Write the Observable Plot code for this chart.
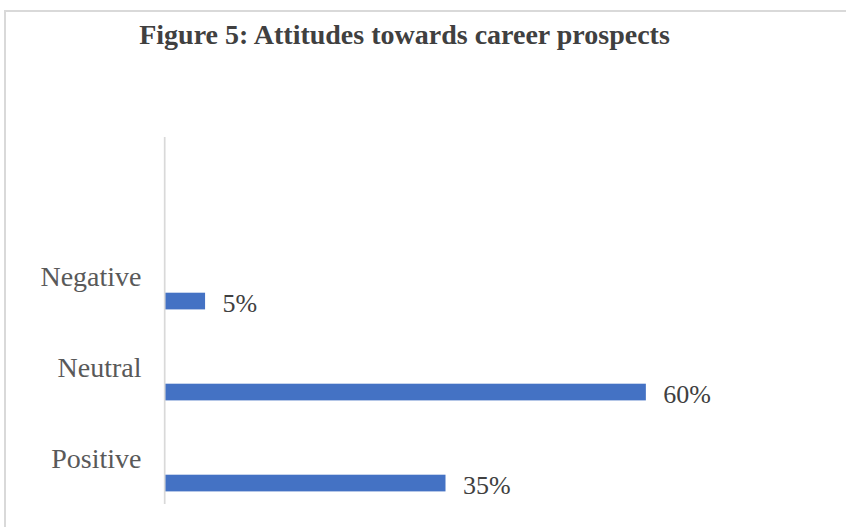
<!DOCTYPE html>
<html>
<head>
<meta charset="utf-8">
<script src="https://cdn.jsdelivr.net/npm/d3@7"></script>
<script src="https://cdn.jsdelivr.net/npm/@observablehq/plot@0.6"></script>
<style>
  html, body { margin: 0; padding: 0; background: #fff; overflow: hidden; width: 846px; height: 527px; }
  #frame { position: absolute; left: 4px; top: 10px; width: 900px; height: 600px; border-top: 2px solid #d9d9d9; border-left: 2px solid #d9d9d9; }
  #title { position: absolute; left: 0; width: 809px; top: 21px; text-align: center; font-family: "Liberation Serif", "Times New Roman", serif; font-weight: bold; font-size: 28px; line-height: 28px; color: #404040; white-space: nowrap; }
  #chart { position: absolute; left: 0; top: 100px; }
</style>
</head>
<body>
<div id="frame"></div>
<div id="title">Figure 5: Attitudes towards career prospects</div>
<div id="chart"></div>
<script>
const categories = ["Negative", "Neutral", "Positive"];
const values = [5, 60, 35];
const bands = ["", "Negative", "Neutral", "Positive"];
const xDomain = [0, 70];

const data = categories.map((c, i) => ({category: c, value: values[i]}));

const chart = Plot.plot({
  width: 846,
  height: 427,
  marginTop: 37,
  marginBottom: 23,
  marginLeft: 165,
  marginRight: 120,
  style: {fontFamily: "Liberation Serif, 'Times New Roman', serif", fontSize: "28px", color: "#595959", background: "transparent"},
  x: {domain: xDomain, axis: null},
  y: {type: "band", domain: bands, padding: 0, axis: null},
  marks: [
    Plot.axisY({tickSize: 0, tickPadding: 24, dy: 1.5, fontSize: 28, fill: "#595959", label: null}),
    Plot.barX(data, {x: "value", y: "category", fill: "#4472C4", insetTop: 62.7, insetBottom: 11.6}),
    Plot.ruleX([0], {stroke: "#d9d9d9", strokeWidth: 1.7, dx: -0.8}),
    Plot.text(data, {x: "value", y: "category", text: d => d.value + "%", textAnchor: "start", dx: 17, dy: 28, fontSize: 26, fill: "#404040"})
  ]
});
document.getElementById("chart").appendChild(chart);
</script>
</body>
</html>
